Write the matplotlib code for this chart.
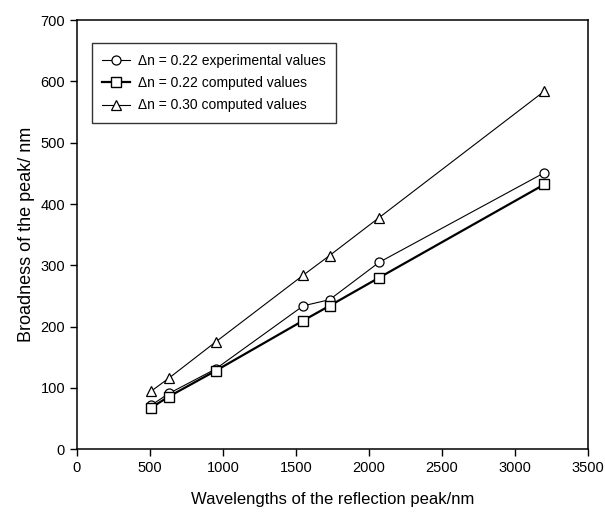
import matplotlib
matplotlib.use("Agg")
import matplotlib.pyplot as plt

plt.rcParams['font.family'] = ['Liberation Sans', 'DejaVu Sans']

# data
wavelength = [510, 630, 950, 1550, 1730, 2070, 3200]
exp_022 = [72, 91, 131, 234, 244, 305, 451]
comp_022 = [68, 86, 128, 210, 234, 280, 432]
comp_030 = [95, 116, 175, 284, 316, 378, 584]

x_ticks = [0, 500, 1000, 1500, 2000, 2500, 3000, 3500]
y_ticks = [0, 100, 200, 300, 400, 500, 600, 700]

fig = plt.figure(figsize=(6.05, 5.17), dpi=100)
ax = fig.add_axes([0.127, 0.131, 0.845, 0.830])

ax.plot(wavelength, exp_022, '-o', color='black', lw=0.8, ms=6.5,
        mfc='white', mec='black', mew=0.9, label=u'\u0394n = 0.22 experimental values')
ax.plot(wavelength, comp_022, '-s', color='black', lw=1.6, ms=6.5,
        mfc='white', mec='black', mew=1.0, label=u'\u0394n = 0.22 computed values')
ax.plot(wavelength, comp_030, '-^', color='black', lw=0.8, ms=6.5,
        mfc='white', mec='black', mew=0.9, label=u'\u0394n = 0.30 computed values')

ax.set_xlim(0, 3500)
ax.set_ylim(0, 700)
ax.set_xticks(x_ticks)
ax.set_yticks(y_ticks)
ax.tick_params(direction='out', length=5, width=1, labelsize=10.5)
for s in ax.spines.values():
    s.set_linewidth(1.1)

ax.set_xlabel('Wavelengths of the reflection peak/nm', fontsize=12, labelpad=12)
ax.set_ylabel('Broadness of the peak/ nm', fontsize=13, labelpad=4)

leg = ax.legend(loc='upper left', bbox_to_anchor=(0.029, 0.946), fontsize=10,
                frameon=True, fancybox=False, edgecolor='black',
                handlelength=2.0, handletextpad=0.6, borderpad=0.75,
                labelspacing=0.6, borderaxespad=0)
leg.get_frame().set_linewidth(1.0)

fig.savefig('out.png', dpi=100)
